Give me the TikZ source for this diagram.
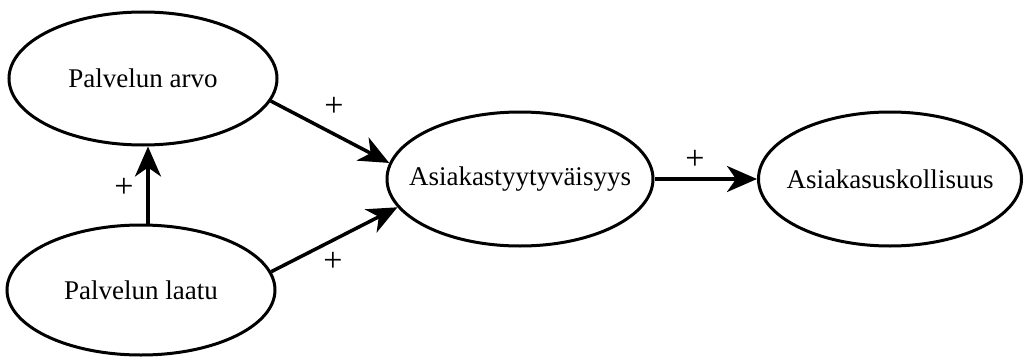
\documentclass[tikz,border=0pt]{standalone}
\usepackage{fontspec}
\setmainfont{Liberation Serif}
\usetikzlibrary{arrows.meta,shapes.geometric}
\begin{document}
\begin{tikzpicture}[x=1pt,y=1pt,
  oval/.style={draw=black, line width=3pt, ellipse, inner sep=0pt,
    font=\fontsize{27}{32}\selectfont},
  arr/.style={line width=3.5pt, -{Stealth[length=30pt,width=26pt,inset=9pt]}},
  sign/.style={font=\fontsize{34}{36}\selectfont, inner sep=0pt}]
\useasboundingbox (0,0) rectangle (1025,357);
\node[oval, minimum width=268pt, minimum height=133pt] (a) at (143,278.5) {\makebox[0pt]{Palvelun arvo}};
\node[oval, minimum width=268pt, minimum height=130pt] (l) at (141,67) {\makebox[0pt]{Palvelun laatu}};
\node[oval, minimum width=266pt, minimum height=134pt] (c) at (520,178) {\makebox[0pt]{Asiakastyytyväisyys}};
\node[oval, minimum width=263pt, minimum height=134pt] (u) at (890,178) {\makebox[0pt]{Asiakasuskollisuus}};
\draw[arr] ([xshift=7pt]l.north) -- ([xshift=5pt]a.south);
\draw[arr] (a.-10.5) -- (c.173);
\draw[arr] (l.8) -- (c.193.4);
\draw[arr] (c.east) -- (u.west);
\node[sign] (p1) at (124,169) {+};
\node[sign] (p2) at (334,250) {+};
\node[sign] (p3) at (333,95) {+};
\node[sign] (p4) at (695,197) {+};
\end{tikzpicture}
\end{document}
